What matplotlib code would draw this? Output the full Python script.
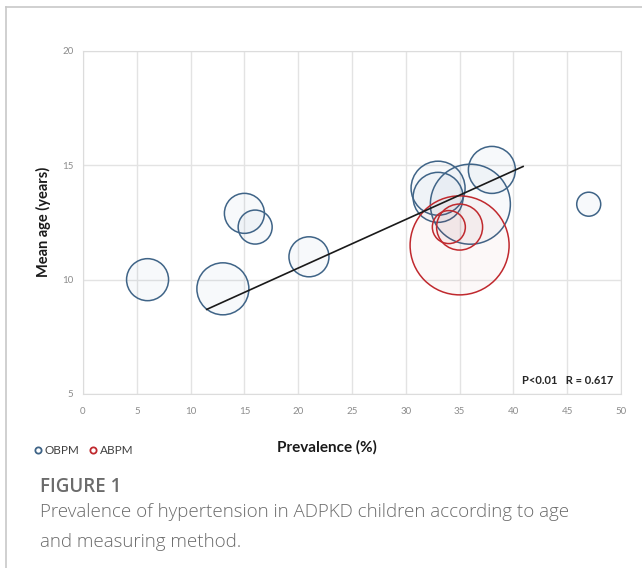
import matplotlib.pyplot as plt
from matplotlib.lines import Line2D

# data
obpm_prev = [6, 13, 15, 16, 21, 33, 33, 36, 38, 47]
obpm_age = [10.0, 9.6, 12.9, 12.3, 11.0, 14.0, 13.6, 13.3, 14.8, 13.3]
obpm_diam = [42, 52, 40, 34, 40, 54, 50, 80, 47, 24]  # bubble diameter (px)

abpm_prev = [35, 35, 34]
abpm_age = [11.5, 12.3, 12.3]
abpm_diam = [99, 46, 33]

trend_x = [11.5, 40.9]
trend_y = [8.7, 14.95]

x_ticks = [0, 5, 10, 15, 20, 25, 30, 35, 40, 45, 50]
y_ticks = [5, 10, 15, 20]

blue = '#3f6487'
red = '#c0292e'

plt.rcParams['font.family'] = ['Lato', 'DejaVu Sans']

fig = plt.figure(figsize=(6.42, 5.68), dpi=100)
ax = fig.add_axes([83/642, 1 - 394/568, 538/642, 343/568])


def to_s(d):
    return [(v * 0.72) ** 2 for v in d]


ax.scatter(obpm_prev, obpm_age, s=to_s(obpm_diam), facecolors=(0.25, 0.4, 0.6, 0.04),
           edgecolors=blue, linewidths=1.1, zorder=3)
ax.scatter(abpm_prev, abpm_age, s=to_s(abpm_diam), facecolors=(0.75, 0.2, 0.2, 0.03),
           edgecolors=red, linewidths=1.1, zorder=4)
ax.plot(trend_x, trend_y, color='#1a1a1a', lw=1.2, zorder=5)

ax.set_xlim(0, 50)
ax.set_ylim(5, 20)
ax.set_xticks(x_ticks)
ax.set_yticks(y_ticks)
ax.grid(True, color='#e3e3e3', lw=1)
ax.set_axisbelow(True)
for sp in ax.spines.values():
    sp.set_color('#dcdcdc')
ax.tick_params(length=0, labelsize=7, labelcolor='#8c8c8c')
ax.tick_params(axis='x', pad=9)
ax.tick_params(axis='y', pad=7)

ax.text(0.985, 0.04, 'P<0.01   R = 0.617', transform=ax.transAxes, ha='right', va='center',
        fontsize=8, fontweight='bold', color='#262626')

fig.text(43/642, 1 - 222/568, 'Mean age (years)', rotation=90, ha='center', va='center',
         fontsize=10.5, fontweight='bold', color='#1a1a1a')
fig.text(327/642, 1 - 447/568, 'Prevalence (%)', ha='center', va='center',
         fontsize=11, fontweight='bold', color='#1a1a1a')

handles = [Line2D([], [], ls='none', marker='o', ms=4.5, mfc='none', mec=blue, mew=1.3),
           Line2D([], [], ls='none', marker='o', ms=4.5, mfc='none', mec=red, mew=1.3)]
fig.legend(handles, ['OBPM', 'ABPM'], loc='center left', bbox_to_anchor=(26/642, 1 - 451/568),
           ncol=2, frameon=False, fontsize=8.5, handletextpad=0.0, columnspacing=0.5,
           handlelength=1.2, borderaxespad=0, labelcolor='#404040')

# caption
fig.text(40/642, 1 - 487/568, 'FIGURE 1', ha='left', va='center', fontsize=13.5,
         color='#6b6b6b', family=['Open Sans', 'DejaVu Sans'], fontweight='semibold')
fig.text(40/642, 1 - 512/568, 'Prevalence of hypertension in ADPKD children according to age',
         ha='left', va='center', fontsize=13.5, color='#6b6b6b', family=['Open Sans', 'DejaVu Sans'],
         fontweight='light')
fig.text(40/642, 1 - 542/568, 'and measuring method.', ha='left', va='center', fontsize=13.5,
         color='#6b6b6b', family=['Open Sans', 'DejaVu Sans'], fontweight='light')

# card border (left and top edges)
fig.add_artist(Line2D([6/642, 6/642], [0, 1 - 7/568], color='#c8c8c8', lw=1.2))
fig.add_artist(Line2D([6/642, 1], [1 - 7/568, 1 - 7/568], color='#c8c8c8', lw=1.2))

fig.savefig('out.png', dpi=100)
